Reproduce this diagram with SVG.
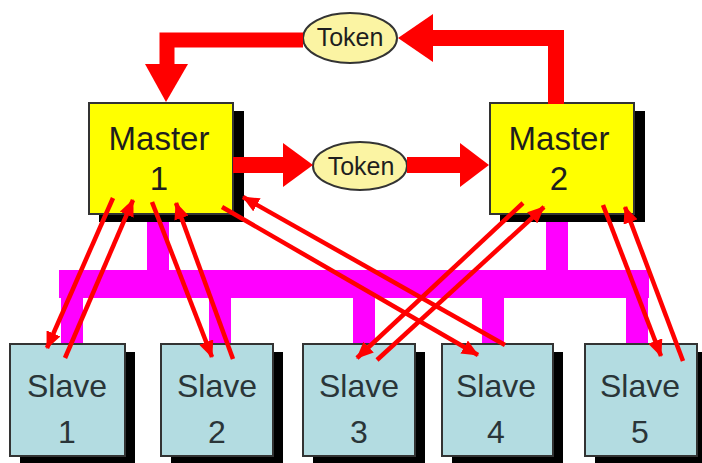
<svg xmlns="http://www.w3.org/2000/svg" width="702" height="463" viewBox="0 0 702 463">
  <style>
    .shadow { fill: #000; }
    .master { fill: #ffff00; stroke: #333; stroke-width: 2; }
    .slave { fill: #b3dce1; stroke: #333; stroke-width: 2; }
    .token { fill: #fbf4a3; stroke: #333; stroke-width: 2; }
    .bus { fill: #ff00ff; }
    .lbl { font-family: "Liberation Sans", Arial, sans-serif; fill: #1e1e1e; text-anchor: middle; }
    .big { font-size: 33px; }
    .sl { font-size: 32px; fill: #2a3538; }
    .tk { font-size: 25px; }
    .thick { fill: none; stroke: #ff0000; stroke-linejoin: miter; stroke-linecap: butt; }
    .head { fill: #ff0000; }
    .thin { stroke: #ff0000; stroke-width: 4.5; fill: none; marker-end: url(#ah); }
  </style>
  <defs>
    <marker id="ah" markerUnits="userSpaceOnUse" markerWidth="17" markerHeight="15" refX="16" refY="7.5" orient="auto">
      <path d="M0,0 L17,7.5 L0,15 z" fill="#ff0000"/>
    </marker>
  </defs>
  <rect width="702" height="463" fill="#fff"/>

  <g id="bus">
    <rect class="bus" x="59" y="270" width="590" height="28"/>
    <rect class="bus" x="147" y="214" width="22" height="58"/>
    <rect class="bus" x="546" y="214" width="22" height="58"/>
    <rect class="bus" x="61" y="296" width="22" height="50"/>
    <rect class="bus" x="209" y="296" width="22" height="50"/>
    <rect class="bus" x="353" y="296" width="22" height="50"/>
    <rect class="bus" x="482" y="296" width="22" height="50"/>
    <rect class="bus" x="626" y="296" width="22" height="50"/>
  </g>

  <g id="master1">
    <rect class="shadow" x="99" y="111" width="145" height="111"/>
    <rect class="master" x="89" y="103" width="144" height="111"/>
    <text class="lbl big" x="159" y="150">Master</text>
    <text class="lbl big" x="159" y="190">1</text>
  </g>
  <g id="master2">
    <rect class="shadow" x="500" y="111" width="145" height="111"/>
    <rect class="master" x="490" y="103" width="144" height="111"/>
    <text class="lbl big" x="559" y="150">Master</text>
    <text class="lbl big" x="559" y="190">2</text>
  </g>

  <g id="token-top">
    <ellipse class="token" cx="350" cy="38" rx="47" ry="25"/>
    <text class="lbl tk" x="350" y="46">Token</text>
  </g>
  <g id="token-mid">
    <ellipse class="token" cx="360" cy="166" rx="47" ry="24"/>
    <text class="lbl tk" x="361" y="175">Token</text>
  </g>

  <g id="slave1">
    <rect class="shadow" x="20" y="352" width="115" height="112"/>
    <rect class="slave" x="10" y="344" width="115" height="112"/>
    <text class="lbl sl" x="67" y="397">Slave</text>
    <text class="lbl sl" x="67" y="443">1</text>
  </g>
  <g id="slave2">
    <rect class="shadow" x="171" y="352" width="112" height="112"/>
    <rect class="slave" x="161" y="344" width="112" height="112"/>
    <text class="lbl sl" x="217" y="397">Slave</text>
    <text class="lbl sl" x="217" y="443">2</text>
  </g>
  <g id="slave3">
    <rect class="shadow" x="313" y="352" width="112" height="112"/>
    <rect class="slave" x="303" y="344" width="112" height="112"/>
    <text class="lbl sl" x="359" y="397">Slave</text>
    <text class="lbl sl" x="359" y="443">3</text>
  </g>
  <g id="slave4">
    <rect class="shadow" x="452" y="352" width="111" height="112"/>
    <rect class="slave" x="442" y="344" width="111" height="112"/>
    <text class="lbl sl" x="496" y="397">Slave</text>
    <text class="lbl sl" x="496" y="443">4</text>
  </g>
  <g id="slave5">
    <rect class="shadow" x="595" y="352" width="112" height="112"/>
    <rect class="slave" x="585" y="344" width="112" height="112"/>
    <text class="lbl sl" x="640" y="397">Slave</text>
    <text class="lbl sl" x="640" y="443">5</text>
  </g>

  <g id="connectors">
    <!-- token passing: top (Master 2 -> Master 1) -->
    <path class="thick" stroke-width="16" d="M556 104 V38 H432"/>
    <polygon class="head" points="433,14 433,62 398,38"/>
    <path class="thick" stroke-width="15" d="M303 40 H167 V66"/>
    <polygon class="head" points="145,64 188,64 166,102"/>
    <!-- token passing: middle (Master 1 -> Master 2) -->
    <path class="thick" stroke-width="16" d="M233 165 H285"/>
    <polygon class="head" points="283,143 283,187 313,165"/>
    <path class="thick" stroke-width="16" d="M407 165 H462"/>
    <polygon class="head" points="460,143 460,187 489,165"/>
    <!-- master/slave links -->
    <line class="thin" x1="113" y1="198" x2="47" y2="348"/>
    <line class="thin" x1="65" y1="358" x2="133" y2="200"/>
    <line class="thin" x1="152" y1="202" x2="212" y2="357"/>
    <line class="thin" x1="233" y1="359" x2="176" y2="203"/>
    <line class="thin" x1="222" y1="207" x2="478" y2="355"/>
    <line class="thin" x1="505" y1="345" x2="243" y2="197"/>
    <line class="thin" x1="523" y1="203" x2="357" y2="358"/>
    <line class="thin" x1="377" y1="360" x2="544" y2="207"/>
    <line class="thin" x1="603" y1="205" x2="661" y2="356"/>
    <line class="thin" x1="683" y1="361" x2="625" y2="207"/>
  </g>
</svg>
